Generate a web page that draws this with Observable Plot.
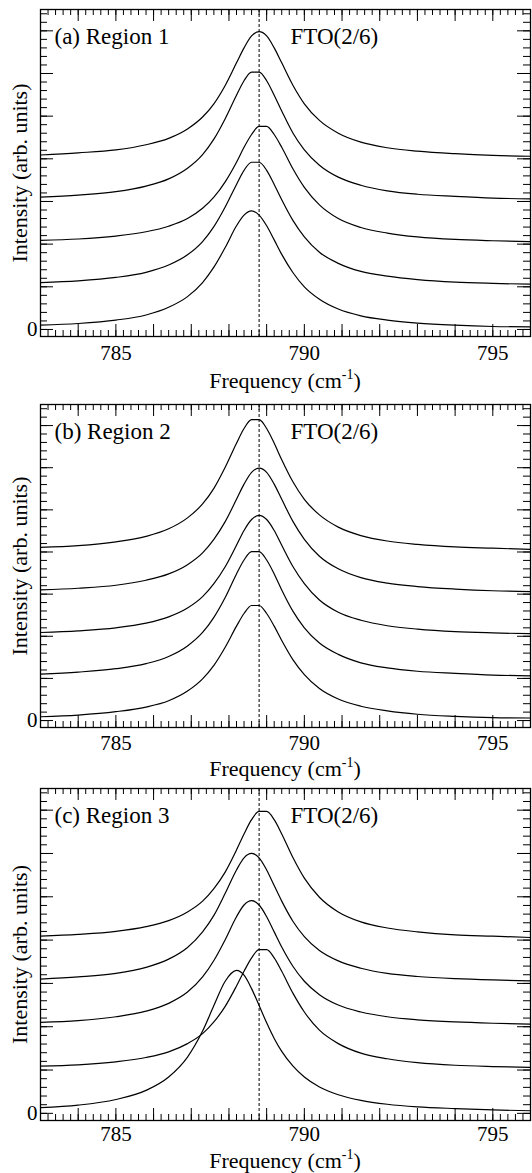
<!DOCTYPE html>
<html><head><meta charset="utf-8">
<script src="https://cdn.jsdelivr.net/npm/d3@7"></script>
<script src="https://cdn.jsdelivr.net/npm/@observablehq/plot@0.6"></script>
<style>
body{margin:0;background:#fff;overflow:hidden;}
#chart svg{display:block;}
#chart svg text{font-family:"Liberation Serif","Times New Roman",serif;}
.xlab{margin-left:40px;width:490px;text-align:center;font-family:"Liberation Serif","Times New Roman",serif;font-size:22px;color:#000;overflow:visible;white-space:nowrap;}
.xlab sup{font-size:14px;vertical-align:0;position:relative;top:-9px;}
</style></head><body><div id="chart"></div>
<script>
// Frequency grid (cm^-1)
const freq = [783.0, 784.0, 785.0, 785.8, 786.4, 786.9, 787.3, 787.6, 787.9, 788.2, 788.4, 788.6, 788.8, 789.0, 789.2, 789.4, 789.7, 790.0, 790.4, 790.9, 791.5, 792.2, 793.0, 794.0, 795.0, 796.0];

// Region 1 spectra (bottom to top), stacked intensities
const r1_s1 = [0.10,0.14,0.22,0.34,0.52,0.77,1.10,1.46,1.92,2.43,2.68,2.78,2.68,2.43,2.10,1.76,1.33,1.00,0.71,0.48,0.32,0.22,0.15,0.10,0.07,0.06];
const r1_s2 = [1.10,1.14,1.22,1.34,1.51,1.75,2.06,2.41,2.87,3.40,3.73,3.92,3.92,3.73,3.40,3.04,2.55,2.17,1.81,1.55,1.36,1.25,1.17,1.11,1.08,1.06];
const r1_s3 = [2.09,2.12,2.19,2.29,2.42,2.60,2.84,3.10,3.46,3.92,4.27,4.57,4.76,4.76,4.57,4.27,3.76,3.33,2.92,2.60,2.39,2.26,2.17,2.11,2.08,2.06];
const r1_s4 = [3.10,3.15,3.23,3.36,3.53,3.78,4.10,4.46,4.94,5.49,5.83,6.03,6.03,5.83,5.49,5.12,4.60,4.21,3.85,3.57,3.38,3.25,3.17,3.12,3.08,3.06];
const r1_s5 = [4.09,4.14,4.21,4.33,4.48,4.70,4.98,5.29,5.72,6.25,6.60,6.88,6.98,6.88,6.60,6.25,5.72,5.29,4.90,4.60,4.39,4.26,4.18,4.12,4.08,4.06];

// Region 2 spectra
const r2_s1 = [0.09,0.13,0.21,0.32,0.47,0.70,0.99,1.31,1.74,2.24,2.54,2.73,2.73,2.54,2.24,1.90,1.44,1.09,0.76,0.51,0.34,0.23,0.15,0.10,0.07,0.06];
const r2_s2 = [1.10,1.15,1.23,1.35,1.52,1.77,2.09,2.45,2.92,3.48,3.81,4.01,4.01,3.81,3.48,3.10,2.59,2.20,1.84,1.57,1.37,1.25,1.17,1.12,1.08,1.06];
const r2_s3 = [2.09,2.13,2.20,2.31,2.46,2.67,2.94,3.25,3.65,4.16,4.51,4.77,4.87,4.77,4.51,4.16,3.65,3.25,2.86,2.57,2.38,2.25,2.17,2.11,2.08,2.06];
const r2_s4 = [3.10,3.14,3.21,3.33,3.48,3.70,3.98,4.30,4.72,5.25,5.61,5.89,5.99,5.89,5.61,5.25,4.72,4.30,3.90,3.60,3.39,3.26,3.18,3.12,3.08,3.06];
const r2_s5 = [4.11,4.15,4.24,4.37,4.55,4.81,5.14,5.51,6.01,6.58,6.93,7.14,7.14,6.93,6.58,6.19,5.66,5.25,4.88,4.59,4.39,4.26,4.18,4.12,4.09,4.06];

// Region 3 spectra
const r3_s1 = [0.13,0.19,0.32,0.53,0.84,1.30,1.90,2.49,3.05,3.30,3.19,2.88,2.49,2.09,1.73,1.43,1.09,0.84,0.61,0.43,0.30,0.21,0.15,0.11,0.08,0.06];
const r3_s2 = [1.09,1.12,1.19,1.29,1.42,1.61,1.84,2.11,2.47,2.94,3.28,3.59,3.78,3.78,3.59,3.28,2.77,2.34,1.92,1.61,1.39,1.26,1.17,1.11,1.08,1.06];
const r3_s3 = [2.10,2.14,2.23,2.36,2.54,2.80,3.15,3.53,4.01,4.54,4.81,4.91,4.81,4.54,4.19,3.84,3.39,3.05,2.74,2.50,2.34,2.23,2.16,2.11,2.08,2.06];
const r3_s4 = [3.10,3.15,3.23,3.37,3.56,3.83,4.19,4.57,5.08,5.62,5.90,6.00,5.90,5.62,5.26,4.90,4.43,4.08,3.76,3.52,3.35,3.23,3.16,3.11,3.08,3.06];
const r3_s5 = [4.09,4.13,4.20,4.31,4.45,4.65,4.90,5.19,5.57,6.08,6.45,6.78,6.97,6.97,6.78,6.45,5.90,5.43,4.99,4.65,4.42,4.28,4.19,4.12,4.09,4.06];

const panelTitles = ["(a) Region 1", "(b) Region 2", "(c) Region 3"];
const modeLabel = "FTO(2/6)";
const modeFreq = 788.8;
const xTickLabels = [785, 790, 795];
const yTickLabels = [0];
const yLabel = "Intensity (arb. units)";
const panelSeries = [
  [r1_s1, r1_s2, r1_s3, r1_s4, r1_s5],
  [r2_s1, r2_s2, r2_s3, r2_s4, r2_s5],
  [r3_s1, r3_s2, r3_s3, r3_s4, r3_s5]
];

const xDomain = [783, 796];
const yDomain = [-0.165, 7.5];
const xMajor = d3.range(783, 796.001, 1);
const xMinor = d3.range(783, 796.001, 0.2).map(v => +v.toFixed(1));
const yMajor = d3.range(0, 7.6, 1);
const yMinor = d3.range(0, 7.6, 0.2).map(v => +v.toFixed(1));

const W = 532, ML = 40, MR = 2;
// per-panel layout: svg height, top margin, bottom margin, tick padding, label box height, label line height
const layout = [
  {h: 366, mt: 9, mb: 30, tp: 9, lh: 29, ll: 29},
  {h: 360, mt: 9, mb: 28, tp: 8, lh: 28, ll: 28},
  {h: 365, mt: 5, mb: 28, tp: 6, lh: 25, ll: 25}
];
const FONT = "'Liberation Serif', 'Times New Roman', serif";

const root = document.getElementById("chart");
panelSeries.forEach((series, pi) => {
  const {h: H, mt: MT, mb: MB, tp, lh, ll} = layout[pi];
  const innerH = H - MT - MB, innerW = W - ML - MR;
  const rows = series.flatMap((vals, si) => vals.map((v, i) => ({f: freq[i], v, s: si})));
  const plot = Plot.plot({
    width: W, height: H,
    marginLeft: ML, marginRight: MR, marginTop: MT, marginBottom: MB,
    x: {domain: xDomain},
    y: {domain: yDomain},
    style: {fontFamily: FONT, fontSize: "21px", background: "white", color: "black", overflow: "visible"},
    marks: [
      Plot.tickX(xMinor, {x: d => d, insetTop: innerH - 6, stroke: "black", strokeWidth: 1}),
      Plot.tickX(xMinor, {x: d => d, insetBottom: innerH - 6, stroke: "black", strokeWidth: 1}),
      Plot.tickX(xMajor, {x: d => d, insetTop: innerH - 12, stroke: "black", strokeWidth: 1}),
      Plot.tickX(xMajor, {x: d => d, insetBottom: innerH - 12, stroke: "black", strokeWidth: 1}),
      Plot.tickY(yMinor, {y: d => d, insetRight: innerW - 7, stroke: "black", strokeWidth: 1}),
      Plot.tickY(yMinor, {y: d => d, insetLeft: innerW - 7, stroke: "black", strokeWidth: 1}),
      Plot.tickY(yMajor, {y: d => d, insetRight: innerW - 13, stroke: "black", strokeWidth: 1}),
      Plot.tickY(yMajor, {y: d => d, insetLeft: innerW - 13, stroke: "black", strokeWidth: 1}),
      Plot.axisX(xTickLabels, {tickSize: 0, tickPadding: tp, label: null, fontSize: 21, fontFamily: FONT}),
      Plot.axisY(yTickLabels, {tickSize: 0, tickPadding: 3, label: null, fontSize: 21, fontFamily: FONT}),
      Plot.ruleX([modeFreq], {stroke: "black", strokeWidth: 1, strokeDasharray: "3,2"}),
      Plot.line(rows, {x: "f", y: "v", z: "s", stroke: "black", strokeWidth: 1.2, curve: "monotone-x"}),
      Plot.frame({stroke: "black", strokeWidth: 1.3}),
      Plot.text([panelTitles[pi]], {frameAnchor: "top-left", dx: 14, dy: 27, textAnchor: "start", lineAnchor: "middle", fontSize: 23, fontFamily: FONT, text: d => d}),
      Plot.text([modeLabel], {frameAnchor: "top-left", dx: 250, dy: 27, textAnchor: "start", lineAnchor: "middle", fontSize: 23, fontFamily: FONT, text: d => d}),
      Plot.text([yLabel], {frameAnchor: "left", dx: -21, rotate: -90, textAnchor: "middle", lineAnchor: "middle", fontSize: 22, fontFamily: FONT, text: d => d})
    ]
  });
  root.appendChild(plot);
  const lab = document.createElement("div");
  lab.className = "xlab";
  lab.style.height = lh + "px";
  lab.style.lineHeight = ll + "px";
  lab.innerHTML = "Frequency (cm<sup>-1</sup>)";
  root.appendChild(lab);
});
</script>
</body></html>
